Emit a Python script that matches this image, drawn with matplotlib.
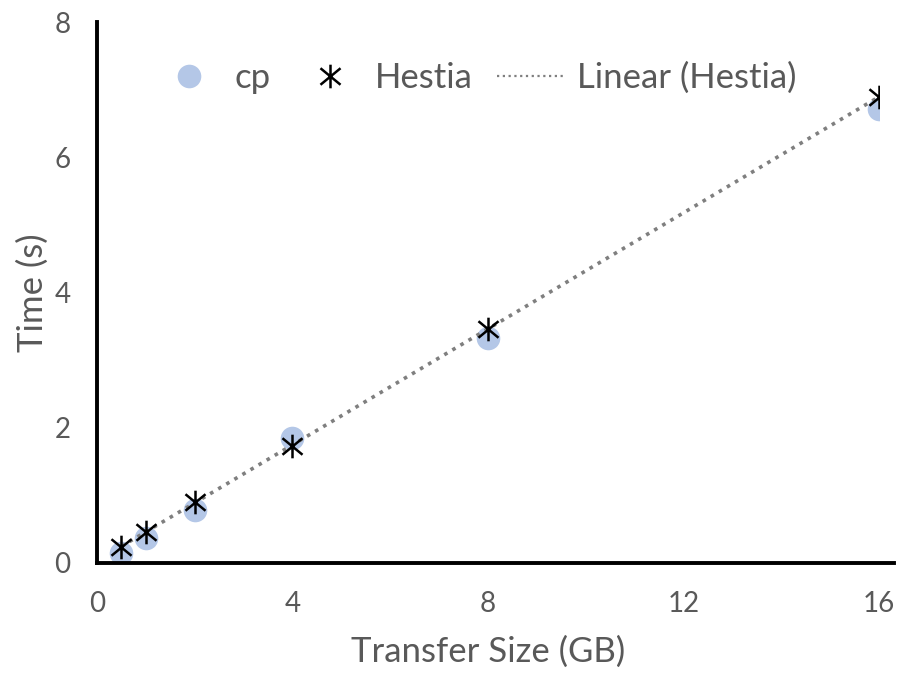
import numpy as np
import matplotlib.pyplot as plt
from matplotlib.path import Path

# data
sizes_gb = [0.5, 1, 2, 4, 8, 16]
cp_time = [0.15, 0.36, 0.78, 1.85, 3.32, 6.72]
hestia_time = [0.24, 0.46, 0.90, 1.73, 3.46, 6.90]

x_ticks = [0, 4, 8, 12, 16]
y_ticks = [0, 2, 4, 6, 8]

plt.rcParams['font.family'] = ['Lato', 'DejaVu Sans']
text_gray = "#595959"

# excel-style asterisk: vertical bar plus an X
star = Path(
    [(0, -1), (0, 1), (-0.85, -0.7), (0.85, 0.7), (-0.85, 0.7), (0.85, -0.7)],
    [Path.MOVETO, Path.LINETO, Path.MOVETO, Path.LINETO, Path.MOVETO, Path.LINETO],
)

fig = plt.figure(figsize=(8.97, 6.74), dpi=100)
ax = fig.add_axes([0.108, 0.165, 0.872, 0.802])

ax.plot(sizes_gb, cp_time, linestyle="none", marker="o", markersize=17,
        color="#b4c7e7", markeredgewidth=0, label="cp", zorder=2)
ax.plot(sizes_gb, hestia_time, linestyle="none", marker=star, markersize=17,
        color="black", markeredgewidth=1.8, markerfacecolor="none",
        label="Hestia", zorder=4)

# linear trendline of Hestia
slope, icpt = np.polyfit(sizes_gb, hestia_time, 1)
xs = np.array([min(sizes_gb), max(sizes_gb)])
ax.plot(xs, slope * xs + icpt, linestyle=(0, (1, 1.6)), linewidth=2.6,
        color="#7f7f7f", label="Linear (Hestia)", zorder=3)

ax.set_xlim(0, 16)
ax.set_ylim(0, 8)
ax.set_xticks(x_ticks)
ax.set_yticks(y_ticks)
ax.tick_params(length=0, labelsize=20, colors=text_gray)
ax.tick_params(axis="x", pad=20)
ax.tick_params(axis="y", pad=19)

for side in ["top", "right"]:
    ax.spines[side].set_visible(False)
for side in ["left", "bottom"]:
    ax.spines[side].set_linewidth(2.8)
    ax.spines[side].set_color("black")
    ax.spines[side].set_capstyle("projecting")
ax.spines["bottom"].set_bounds(0, 16.3)

ax.set_xlabel("Transfer Size (GB)", fontsize=25, color=text_gray, labelpad=14)
ax.set_ylabel("Time (s)", fontsize=25, color=text_gray, labelpad=4)

leg = ax.legend(loc="upper center", bbox_to_anchor=(0.484, 0.985), ncol=3,
                frameon=False, fontsize=25, handlelength=2.0, handletextpad=0.3,
                columnspacing=0.7)
for t in leg.get_texts():
    t.set_color(text_gray)
leg.legend_handles[2].set_linewidth(1.6)

fig.savefig("out.png", dpi=100)
